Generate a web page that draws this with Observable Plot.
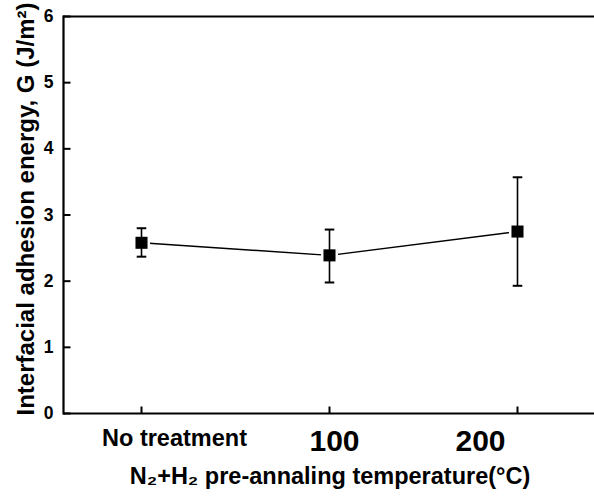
<!DOCTYPE html>
<html>
<head>
<meta charset="utf-8">
<script src="https://cdn.jsdelivr.net/npm/d3@7"></script>
<script src="https://cdn.jsdelivr.net/npm/@observablehq/plot@0.6"></script>
<style>
  html, body { margin: 0; padding: 0; background: #fff; }
  #chart { width: 594px; height: 499px; }
</style>
</head>
<body>
<div id="chart"></div>
<script>
const categories = ["No treatment", "100", "200"];
const energy = [2.58, 2.39, 2.75];
const errLow = [2.37, 1.98, 1.93];
const errHigh = [2.80, 2.78, 3.57];
const yTicks = [0, 1, 2, 3, 4, 5, 6];
const xTitle = "N₂+H₂ pre-annaling temperature(°C)";
const yTitle = "Interfacial adhesion energy, G (J/m²)";

const data = categories.map((c, i) => ({cat: c, g: energy[i], lo: errLow[i], hi: errHigh[i]}));

const font = "'Liberation Sans', Arial, Helvetica, sans-serif";

// horizontal cap symbol for error bars
const capSymbol = {
  draw(context, size) {
    const w = Math.sqrt(size) / 2;
    context.moveTo(-w, 0);
    context.lineTo(w, 0);
  }
};
// inward tick symbols (length = sqrt(size))
const tickRight = {
  draw(context, size) {
    context.moveTo(0, 0);
    context.lineTo(Math.sqrt(size), 0);
  }
};
const tickUp = {
  draw(context, size) {
    context.moveTo(0, 0);
    context.lineTo(0, -Math.sqrt(size));
  }
};
const rTick = Math.sqrt(49 / Math.PI); // 7px long ticks

const labelMark = (cat, dx, dy, size) =>
  Plot.text([cat], {x: d => d, frameAnchor: "bottom", lineAnchor: "bottom", dx, dy,
    fontSize: size, fontWeight: "bold", fill: "black"});

const chart = Plot.plot({
  width: 594,
  height: 499,
  marginLeft: 63,
  marginRight: 0,
  marginTop: 16,
  marginBottom: 86,
  style: {fontFamily: font, background: "white", color: "black"},
  x: {type: "point", domain: categories, padding: 0.405, align: 0.5, axis: null},
  y: {type: "linear", domain: [0, 6]},
  marks: [
    Plot.axisY({ticks: yTicks, tickSize: 0, tickPadding: 10, tickFormat: "d", fontSize: 17.5, fontWeight: "bold", label: null}),
    Plot.dot(yTicks, {y: d => d, frameAnchor: "left", symbol: tickRight, r: rTick, fill: "none", stroke: "black", strokeWidth: 2}),
    Plot.dot(categories, {x: d => d, frameAnchor: "bottom", symbol: tickUp, r: rTick, fill: "none", stroke: "black", strokeWidth: 2}),
    Plot.ruleY([0], {strokeWidth: 2.2}),
    Plot.ruleY([6], {strokeWidth: 2.2}),
    Plot.frame({anchor: "left", strokeWidth: 2.2}),
    Plot.line(data, {x: "cat", y: "g", stroke: "black", strokeWidth: 1.4}),
    Plot.dot(data, {x: "cat", y: "g", symbol: "square", r: 6.8, fill: "white", stroke: "white", strokeWidth: 5}),
    Plot.ruleX(data, {x: "cat", y1: "lo", y2: "hi", stroke: "black", strokeWidth: 1.6}),
    Plot.dot(data, {x: "cat", y: "lo", symbol: capSymbol, r: 5.4, fill: "none", stroke: "black", strokeWidth: 2}),
    Plot.dot(data, {x: "cat", y: "hi", symbol: capSymbol, r: 5.4, fill: "none", stroke: "black", strokeWidth: 2}),
    Plot.dot(data, {x: "cat", y: "g", symbol: "square", r: 6.8, fill: "black", stroke: "none"}),
    labelMark(categories[0], 33, 32, 23.5),
    labelMark(categories[1], 5, 37, 30),
    labelMark(categories[2], -37, 37, 30),
    Plot.text([xTitle], {frameAnchor: "bottom", lineAnchor: "bottom", dx: 1, dy: 70,
      fontSize: 23.5, fontWeight: "bold", fill: "black"}),
    Plot.text([yTitle], {frameAnchor: "left", rotate: -90, textAnchor: "middle", lineAnchor: "middle", dx: -37, dy: -6,
      fontSize: 24, fontWeight: "bold", fill: "black"})
  ]
});
document.getElementById("chart").appendChild(chart);
</script>
</body>
</html>
